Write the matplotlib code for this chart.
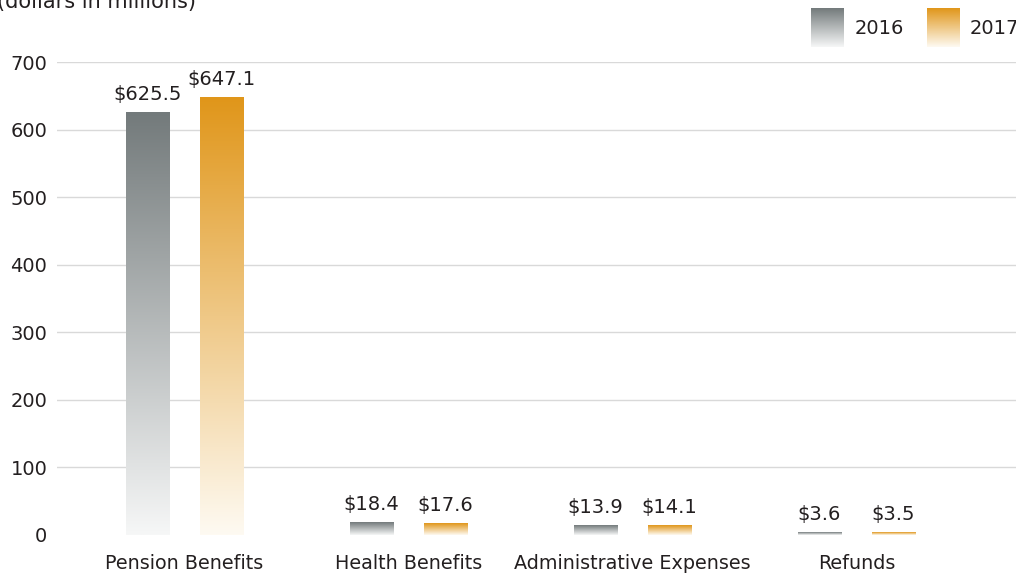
import numpy as np
import matplotlib
matplotlib.use("Agg")
import matplotlib.pyplot as plt
from matplotlib.colors import LinearSegmentedColormap

plt.rcParams['font.family'] = ['DejaVu Sans']

categories = ["Pension Benefits", "Health Benefits", "Administrative Expenses", "Refunds"]
years = ["2016", "2017"]
values_2016 = [625.5, 18.4, 13.9, 3.6]
values_2017 = [647.1, 17.6, 14.1, 3.5]
yticks = [0, 100, 200, 300, 400, 500, 600, 700]

TEXT = "#231f20"
cmap_2016 = LinearSegmentedColormap.from_list("g2016", ["#f6f7f7", "#737a7b"])
cmap_2017 = LinearSegmentedColormap.from_list("g2017", ["#fefaf2", "#e0961a"])
grad = np.linspace(0, 1, 256).reshape(-1, 1)

fig = plt.figure(figsize=(10.16, 5.85), dpi=100)
ax = fig.add_axes([57 / 1016, 1 - 535 / 585, 959 / 1016, 473 / 585])

for s in ax.spines.values():
    s.set_visible(False)

for t in yticks[1:]:
    ax.axhline(t, color="#d9d9d9", lw=1.0, zorder=0)

x = np.arange(len(categories))
off = 0.165
w = 0.192


def draw_bars(xs, vals, cmap):
    for xc, v in zip(xs, vals):
        ax.imshow(grad, cmap=cmap, origin="lower", aspect="auto",
                  extent=(xc - w / 2, xc + w / 2, 0, v), zorder=2,
                  interpolation="bilinear")
        ax.annotate("$%.1f" % v, (xc, v), xytext=(0, 6), textcoords="offset points",
                    ha="center", va="bottom", fontsize=14, color=TEXT)


draw_bars(x - off, values_2016, cmap_2016)
draw_bars(x + off, values_2017, cmap_2017)

ax.set_xlim(-0.569, 3.712)
ax.set_ylim(0, 700)
ax.set_yticks(yticks)
ax.set_xticks(x)
ax.set_xticklabels(categories)
ax.tick_params(axis="y", length=0, pad=7, labelsize=14, labelcolor=TEXT)
ax.tick_params(axis="x", length=0, pad=14, labelsize=13.8, labelcolor=TEXT)

fig.text(-3 / 1016, 1 - 8 / 585, "(dollars in millions)", ha="left", va="baseline",
         fontsize=15, color=TEXT)

# legend squares with gradient
for lx, tx, cmap, yr in [(811, 855, cmap_2016, years[0]), (927, 970, cmap_2017, years[1])]:
    lax = fig.add_axes([lx / 1016, 1 - 47 / 585, 33 / 1016, 39 / 585])
    lax.imshow(grad, cmap=cmap, origin="lower", aspect="auto", interpolation="bilinear")
    lax.axis("off")
    fig.text(tx / 1016, 1 - 29 / 585, yr, ha="left", va="center", fontsize=14, color=TEXT)

fig.savefig("out.png", dpi=100)
